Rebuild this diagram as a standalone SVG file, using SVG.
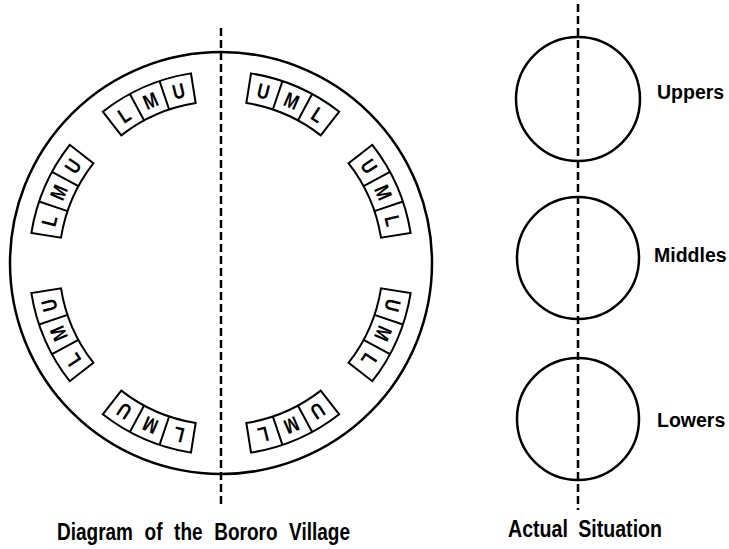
<svg xmlns="http://www.w3.org/2000/svg" width="729" height="549" viewBox="0 0 729 549">
<style>
.ln{fill:none;stroke:#000;stroke-width:2.5}
.dash{fill:none;stroke:#000;stroke-width:2.5;stroke-dasharray:8 4}
.box{fill:#fff;stroke:#000;stroke-width:2;stroke-linejoin:miter}
.lt{font-family:"Liberation Sans",Arial,sans-serif;font-weight:bold;font-size:21px;text-anchor:middle}
.lab{font-family:"Liberation Sans",Arial,sans-serif;font-weight:bold;font-size:24px}
.side{font-family:"Liberation Sans",Arial,sans-serif;font-weight:bold;font-size:19.5px}
</style>
<defs>
<path id="seg" class="box" d="M -48.07 -185.88 A 192 192 0 0 1 48.07 -185.88 L 40.56 -156.84 A 162 162 0 0 0 -40.56 -156.84 Z M -16.18 -191.32 L -13.65 -161.42 M 16.18 -191.32 L 13.65 -161.42"/>
</defs>
<rect width="729" height="549" fill="#fff"/>
<g id="village">
<circle class="ln" cx="221" cy="263" r="211"/>
</g>
<g id="connectors">
<line class="dash" x1="221" y1="28" x2="221" y2="506"/>
<line class="dash" x1="578" y1="4" x2="578" y2="510"/>
</g>
<g id="groups" transform="translate(221 263)">
<g id="g-tl" transform="rotate(-23.5)"><use href="#seg"/>
<g transform="rotate(-9.67) translate(0 -177)"><text class="lt" transform="scale(0.8 1)" y="7.5">L</text></g>
<g transform="translate(0 -177)"><text class="lt" transform="scale(0.8 1)" y="7.5">M</text></g>
<g transform="rotate(9.67) translate(0 -177)"><text class="lt" transform="scale(0.8 1)" y="7.5">U</text></g></g>
<g id="g-ul" transform="rotate(-66.5)"><use href="#seg"/>
<g transform="rotate(-9.67) translate(0 -177)"><text class="lt" transform="scale(0.8 1)" y="7.5">L</text></g>
<g transform="translate(0 -177)"><text class="lt" transform="scale(0.8 1)" y="7.5">M</text></g>
<g transform="rotate(9.67) translate(0 -177)"><text class="lt" transform="scale(0.8 1)" y="7.5">U</text></g></g>
<g id="g-ll" transform="rotate(-113.5)"><use href="#seg"/>
<g transform="rotate(-9.67) translate(0 -177)"><text class="lt" transform="scale(0.8 1)" y="7.5">L</text></g>
<g transform="translate(0 -177)"><text class="lt" transform="scale(0.8 1)" y="7.5">M</text></g>
<g transform="rotate(9.67) translate(0 -177)"><text class="lt" transform="scale(0.8 1)" y="7.5">U</text></g></g>
<g id="g-bl" transform="rotate(-156.5)"><use href="#seg"/>
<g transform="rotate(-9.67) translate(0 -177)"><text class="lt" transform="scale(0.8 1)" y="7.5">L</text></g>
<g transform="translate(0 -177)"><text class="lt" transform="scale(0.8 1)" y="7.5">M</text></g>
<g transform="rotate(9.67) translate(0 -177)"><text class="lt" transform="scale(0.8 1)" y="7.5">U</text></g></g>
<g id="g-tr" transform="rotate(23.5)"><use href="#seg"/>
<g transform="rotate(-9.67) translate(0 -177)"><text class="lt" transform="scale(0.8 1)" y="7.5">U</text></g>
<g transform="translate(0 -177)"><text class="lt" transform="scale(0.8 1)" y="7.5">M</text></g>
<g transform="rotate(9.67) translate(0 -177)"><text class="lt" transform="scale(0.8 1)" y="7.5">L</text></g></g>
<g id="g-ur" transform="rotate(66.5)"><use href="#seg"/>
<g transform="rotate(-9.67) translate(0 -177)"><text class="lt" transform="scale(0.8 1)" y="7.5">U</text></g>
<g transform="translate(0 -177)"><text class="lt" transform="scale(0.8 1)" y="7.5">M</text></g>
<g transform="rotate(9.67) translate(0 -177)"><text class="lt" transform="scale(0.8 1)" y="7.5">L</text></g></g>
<g id="g-lr" transform="rotate(113.5)"><use href="#seg"/>
<g transform="rotate(-9.67) translate(0 -177)"><text class="lt" transform="scale(0.8 1)" y="7.5">U</text></g>
<g transform="translate(0 -177)"><text class="lt" transform="scale(0.8 1)" y="7.5">M</text></g>
<g transform="rotate(9.67) translate(0 -177)"><text class="lt" transform="scale(0.8 1)" y="7.5">L</text></g></g>
<g id="g-br" transform="rotate(156.5)"><use href="#seg"/>
<g transform="rotate(-9.67) translate(0 -177)"><text class="lt" transform="scale(0.8 1)" y="7.5">U</text></g>
<g transform="translate(0 -177)"><text class="lt" transform="scale(0.8 1)" y="7.5">M</text></g>
<g transform="rotate(9.67) translate(0 -177)"><text class="lt" transform="scale(0.8 1)" y="7.5">L</text></g></g>
</g>
<g id="uppers"><circle class="ln" cx="578" cy="99" r="62"/><text class="side" x="657" y="99">Uppers</text></g>
<g id="middles"><circle class="ln" cx="578" cy="258" r="61"/><text class="side" x="654" y="262">Middles</text></g>
<g id="lowers"><circle class="ln" cx="578" cy="419" r="61"/><text class="side" x="657" y="427">Lowers</text></g>
<g id="captions">
<text class="lab" x="57" y="540" textLength="293" lengthAdjust="spacingAndGlyphs" word-spacing="8">Diagram of the Bororo Village</text>
<text class="lab" x="508" y="537" textLength="154" lengthAdjust="spacingAndGlyphs" word-spacing="6">Actual Situation</text>
</g>
</svg>
